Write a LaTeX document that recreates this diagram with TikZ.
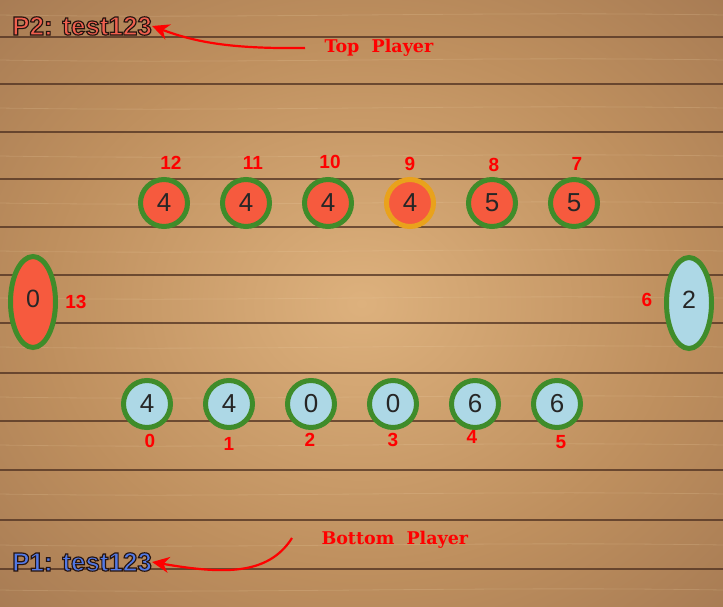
\documentclass[tikz,border=0pt]{standalone}
\usepackage{fontspec}
\setmainfont{Liberation Sans}
\newfontfamily\hintfont{DejaVu Serif}
\usetikzlibrary{shapes.geometric,arrows.meta,calc}

\definecolor{woodlight}{HTML}{DDB17D}
\definecolor{woodmid}{HTML}{BE8F5E}
\definecolor{wooddark}{HTML}{906749}
\definecolor{plank}{HTML}{4E3020}
\definecolor{grain}{HTML}{F0D3A8}
\definecolor{seedred}{HTML}{F65A3E}
\definecolor{seedblue}{HTML}{ADD8E6}
\definecolor{rim}{HTML}{3F8C2A}
\definecolor{rimsel}{HTML}{E9A21C}
\definecolor{ponered}{HTML}{F0604F}
\definecolor{ptwoblue}{HTML}{5279E6}

\pgfdeclareradialshading{woodglow}{\pgfpoint{0bp}{0bp}}{color(0bp)=(woodlight); color(22bp)=(woodmid); color(50bp)=(wooddark)}
\newcommand\strokedtext[2]{{\color{#1}\special{pdf:literal direct 0.15 0.08 0.06 RG 2 Tr 1.15 w}#2\special{pdf:literal direct 0 Tr 1 w}}}

\tikzset{
  pit/.style={circle, draw=rim, line width=5pt, minimum size=47pt, inner sep=0pt,
    text=black!85, font=\fontsize{26}{26}\selectfont},
  store/.style={ellipse, draw=rim, line width=5pt, minimum width=45pt, minimum height=91pt,
    inner sep=0pt, text=black!85, font=\fontsize{25}{25}\selectfont},
  idx/.style={text=red, font=\bfseries\fontsize{19}{19}\selectfont},
  hint/.style={text=red, font=\hintfont\bfseries\fontsize{17.5}{17.5}\selectfont},
  player/.style={anchor=west, inner sep=0pt, font=\bfseries\fontsize{26}{26}\selectfont},
  pointer/.style={red, line width=2.2pt, -{Stealth[length=17pt,width=16pt]}}
}

\begin{document}
\begin{tikzpicture}[x=1pt, y=-1pt]
    \useasboundingbox (0,0) rectangle (723,607);
    \shade[shading=woodglow] (0,0) rectangle (723,607);
    \foreach \y in {15,60,108,156,203,251,298,347,397,445,494,545,590}
        \draw[grain, opacity=0.2, line width=0.8pt] (0,\y) .. controls (240,\y+4) and (480,\y-4) .. (723,\y);
    \foreach \y in {37,84,132,179,227,275,323,373,421,470,520,569}
        \draw[plank, opacity=0.75, line width=1.8pt] (0,\y) -- (723,\y);

    \foreach \k/\n/\s/\dx/\dy [count=\i from 0] in {12/4/rim/7/-40, 11/4/rim/7/-40, 10/4/rim/2/-41,
        9/4/rimsel/0/-39, 8/5/rim/2/-38, 7/5/rim/3/-39} {
        \node[pit, fill=seedred, draw=\s] (t\k) at (164+82*\i,203) {\n};
        \node[idx] (l\k) at ($(t\k)+(\dx,\dy)$) {\k};
    }
    \foreach \k/\n/\dx/\dy in {0/4/3/37, 1/4/0/40, 2/0/-1/36, 3/0/0/36, 4/6/-3/33, 5/6/4/38} {
        \node[pit, fill=seedblue] (b\k) at (147+82*\k,404) {\n};
        \node[idx] (l\k) at ($(b\k)+(\dx,\dy)$) {\k};
    }

    \node[store, fill=seedred] (s13) at (33,302) {\raisebox{6pt}{0}};
    \node[idx] (l13) at (76,302) {13};
    \node[store, fill=seedblue] (s6) at (689,303) {\raisebox{6pt}{2}};
    \node[idx] (l6) at (647,300) {6};

    \node[player] (p2) at (12,26) {\strokedtext{ponered}{P2: test123}};
    \node[player] (p1) at (12,562) {\strokedtext{ptwoblue}{P1: test123}};

    \node[hint, anchor=west] (top) at (321,48) {Top\ \ Player};
    \node[hint, anchor=west] (bottom) at (318,540) {Bottom\ \ Player};

    \draw[pointer] (top.west) ++(-16,0) coordinate (tstart)
        (tstart) .. controls (230,49) and (195,42) .. (p2.east);
    \draw[pointer] (bottom.west) ++(-26,-2) coordinate (bstart)
        (bstart) .. controls (268,576) and (222,574) .. (p1.east);
\end{tikzpicture}
\end{document}
